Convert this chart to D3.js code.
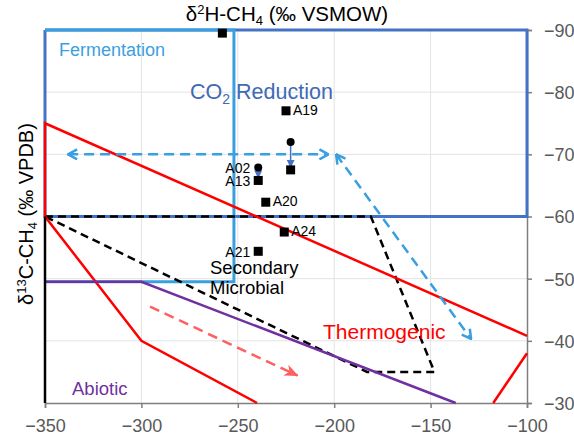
<!DOCTYPE html>
<html>
<head>
<meta charset="utf-8">
<script src="https://cdn.jsdelivr.net/npm/d3@7.9.0/dist/d3.min.js"></script>
<style>
  body { margin: 0; background: #fff; }
  svg { display: block; font-family: "Liberation Sans", Arial, sans-serif; }
</style>
</head>
<body>
<svg id="chart" width="574" height="440"></svg>
<script>
// axis ticks
const xTicks = [-350, -300, -250, -200, -150, -100];
const yTicks = [-90, -80, -70, -60, -50, -40, -30];

// genetic fields (δ2H, δ13C)
const co2Box = [[-350, -90], [-100, -90], [-100, -60], [-350, -60], [-350, -90]];
const fermentBox = [[-350, -90], [-252, -90], [-252, -49.5], [-350, -49.5]];
const thermoMain = [[-100, -40.8], [-350, -75], [-350, -60], [-300, -40], [-240, -30]];
const thermoRight = [[-117.5, -30], [-100, -38]];
const abiotic = [[-350, -49.5], [-300, -49.5], [-137, -30]];
const secondary = [[-350, -60], [-181, -60], [-148, -35], [-183, -35], [-350, -60]];
const leftEdge = [[-350, -60], [-350, -30]];

// process arrows
const fermArrow = [[-338, -70], [-203, -70]];
const oxArrow = [[-199, -70], [-129, -40.3]];
const thermoArrow = [[-295.5, -45.5], [-219, -34.4]];

// samples (squares)
const sampleNames = ["", "A19", "", "A13", "A20", "A24", "A21"];
const sampleH = [-258, -225, -222.6, -239.4, -235.5, -225.9, -239.4];
const sampleC = [-89.5, -77, -67.5, -65.8, -62.3, -57.5, -54.4];
const sampleSide = ["", "right", "", "left", "right", "right", "left"];

// earlier measurements (circles) -> shift arrows
const prevNames = ["", "A02"];
const prevH = [-222.6, -239.4];
const prevC = [-72, -67.9];
const prevTo = [2, 3];

const svg = d3.select("#chart");
const x = d3.scaleLinear().domain([-350, -100]).range([45, 527]);
const y = d3.scaleLinear().domain([-90, -30]).range([30, 403]);
const line = d3.line().x(d => x(d[0])).y(d => y(d[1]));

const defs = svg.append("defs");
defs.append("clipPath").attr("id", "plot")
  .append("rect").attr("x", x(-350) - 2).attr("y", y(-90) - 2)
  .attr("width", x(-100) - x(-350) + 4).attr("height", y(-30) - y(-90) + 4);

function chevron(id, color) {
  defs.append("marker").attr("id", id)
    .attr("viewBox", "0 0 12 12").attr("refX", 11).attr("refY", 6)
    .attr("markerWidth", 12).attr("markerHeight", 12)
    .attr("markerUnits", "userSpaceOnUse").attr("orient", "auto-start-reverse")
    .append("path").attr("d", "M2,1 L11,6 L2,11")
    .attr("fill", "none").attr("stroke", color).attr("stroke-width", 2.5);
}
chevron("blueHead", "#3a9fe0");
defs.append("marker").attr("id", "redHead")
  .attr("viewBox", "0 0 14 12").attr("refX", 13).attr("refY", 6)
  .attr("markerWidth", 14).attr("markerHeight", 12)
  .attr("markerUnits", "userSpaceOnUse").attr("orient", "auto")
  .append("path").attr("d", "M0,0 L14,6 L0,12 L4,6 Z").attr("fill", "#ff5f5f");
defs.append("marker").attr("id", "smallHead")
  .attr("viewBox", "0 0 8 8").attr("refX", 7).attr("refY", 4)
  .attr("markerWidth", 8).attr("markerHeight", 8)
  .attr("markerUnits", "userSpaceOnUse").attr("orient", "auto")
  .append("path").attr("d", "M0,0 L8,4 L0,8 Z").attr("fill", "#4472c4");

// gridlines
svg.append("g").selectAll("line").data(xTicks.slice(1, -1)).join("line")
  .attr("x1", d => x(d)).attr("x2", d => x(d)).attr("y1", y(-90)).attr("y2", y(-30))
  .attr("stroke", "#e3e3e3").attr("stroke-width", 1);
svg.append("g").selectAll("line").data(yTicks.slice(1, -1)).join("line")
  .attr("x1", x(-350)).attr("x2", x(-100)).attr("y1", d => y(d)).attr("y2", d => y(d))
  .attr("stroke", "#e3e3e3").attr("stroke-width", 1);

// axes: bottom and right
const xAxis = svg.append("g").attr("transform", `translate(0,${y(-30)})`)
  .call(d3.axisBottom(x).tickValues(xTicks).tickSize(5).tickPadding(8));
const yAxis = svg.append("g").attr("transform", `translate(${x(-100)},0)`)
  .call(d3.axisRight(y).tickValues(yTicks).tickSize(5).tickPadding(12));
[xAxis, yAxis].forEach(a => {
  a.select(".domain").attr("stroke", "#7f7f7f").attr("stroke-width", 1.5);
  a.selectAll(".tick line").attr("stroke", "#7f7f7f").attr("stroke-width", 1.5);
  a.selectAll(".tick text").attr("fill", "#595959")
    .style("font-size", "18px").style("font-family", "Liberation Sans, Arial, sans-serif");
});
yAxis.selectAll(".tick text").attr("dy", "0.36em");
xAxis.selectAll(".tick text").attr("dy", "0.9em");

const g = svg.append("g").attr("clip-path", "url(#plot)");

// fields
g.append("path").attr("d", line(co2Box)).attr("fill", "none")
  .attr("stroke", "#4472c4").attr("stroke-width", 3);
g.append("path").attr("d", line(fermentBox)).attr("fill", "none")
  .attr("stroke", "#3a9fe0").attr("stroke-width", 3);
g.append("path").attr("d", line(secondary)).attr("fill", "none")
  .attr("stroke", "#000").attr("stroke-width", 2.5).attr("stroke-dasharray", "8,5");
g.append("path").attr("d", line(thermoMain)).attr("fill", "none")
  .attr("stroke", "#ff0000").attr("stroke-width", 2.5);
g.append("path").attr("d", line(thermoRight)).attr("fill", "none")
  .attr("stroke", "#ff0000").attr("stroke-width", 2.5);
g.append("path").attr("d", line(abiotic)).attr("fill", "none")
  .attr("stroke", "#7030a0").attr("stroke-width", 2.5);
g.append("path").attr("d", line(leftEdge)).attr("fill", "none")
  .attr("stroke", "#000").attr("stroke-width", 2.5);

// process arrows
g.append("path").attr("d", line(fermArrow)).attr("fill", "none")
  .attr("stroke", "#3a9fe0").attr("stroke-width", 2.5).attr("stroke-dasharray", "10,6")
  .attr("marker-start", "url(#blueHead)").attr("marker-end", "url(#blueHead)");
g.append("path").attr("d", line(oxArrow)).attr("fill", "none")
  .attr("stroke", "#3a9fe0").attr("stroke-width", 2.5).attr("stroke-dasharray", "10,6")
  .attr("marker-start", "url(#blueHead)").attr("marker-end", "url(#blueHead)");
g.append("path").attr("d", line(thermoArrow)).attr("fill", "none")
  .attr("stroke", "#ff5f5f").attr("stroke-width", 2.5).attr("stroke-dasharray", "10,6")
  .attr("marker-end", "url(#redHead)");

// shift arrows from circles to squares
prevTo.forEach((j, i) => {
  g.append("line")
    .attr("x1", x(prevH[i])).attr("y1", y(prevC[i]))
    .attr("x2", x(sampleH[j])).attr("y2", y(sampleC[j]) - 3)
    .attr("stroke", "#4472c4").attr("stroke-width", 1.5)
    .attr("marker-end", "url(#smallHead)");
});

// points
g.selectAll("circle.prev").data(prevH).join("circle").attr("class", "prev")
  .attr("cx", d => x(d)).attr("cy", (d, i) => y(prevC[i])).attr("r", 4).attr("fill", "#000");
g.selectAll("rect.sample").data(sampleH).join("rect").attr("class", "sample")
  .attr("x", d => x(d) - 4.5).attr("y", (d, i) => y(sampleC[i]) - 4.5)
  .attr("width", 9).attr("height", 9).attr("fill", "#000");

// point labels
const labels = svg.append("g").style("font-size", "14px").attr("fill", "#000");
sampleNames.forEach((n, i) => {
  if (!n) return;
  const right = sampleSide[i] === "right";
  labels.append("text")
    .attr("x", x(sampleH[i]) + (right ? 7 : -8))
    .attr("y", y(sampleC[i]) + (right ? 4 : 6))
    .attr("text-anchor", right ? "start" : "end").text(n);
});
prevNames.forEach((n, i) => {
  if (!n) return;
  labels.append("text").attr("x", x(prevH[i]) - 8).attr("y", y(prevC[i]) + 6)
    .attr("text-anchor", "end").text(n);
});

// field labels
svg.append("text").attr("x", 59).attr("y", 56).attr("fill", "#3a9fe0")
  .style("font-size", "18px").text("Fermentation");
const co2 = svg.append("text").attr("x", 190).attr("y", 99).attr("fill", "#4169b5")
  .style("font-size", "21.5px");
co2.append("tspan").text("CO");
co2.append("tspan").attr("dy", 5).style("font-size", "14px").text("2");
co2.append("tspan").attr("dy", -5).text(" Reduction");
svg.append("text").attr("x", 210).attr("y", 274).attr("fill", "#000")
  .style("font-size", "18.5px").text("Secondary");
svg.append("text").attr("x", 210).attr("y", 294).attr("fill", "#000")
  .style("font-size", "18.5px").text("Microbial");
svg.append("text").attr("x", 323).attr("y", 339).attr("fill", "#ff0000")
  .style("font-size", "21px").text("Thermogenic");
svg.append("text").attr("x", 72).attr("y", 395).attr("fill", "#7030a0")
  .style("font-size", "18.5px").text("Abiotic");

// axis titles
const tx = svg.append("text").attr("x", 287).attr("y", 21).attr("text-anchor", "middle")
  .attr("fill", "#000").style("font-size", "20.5px");
tx.append("tspan").text("δ");
tx.append("tspan").attr("dy", -7).style("font-size", "13px").text("2");
tx.append("tspan").attr("dy", 7).text("H-CH");
tx.append("tspan").attr("dy", 4).style("font-size", "13px").text("4");
tx.append("tspan").attr("dy", -4).text(" (‰ VSMOW)");

const ty = svg.append("text").attr("transform", "translate(33,214) rotate(-90)")
  .attr("text-anchor", "middle").attr("fill", "#000").style("font-size", "20px");
ty.append("tspan").text("δ");
ty.append("tspan").attr("dy", -7).style("font-size", "13px").text("13");
ty.append("tspan").attr("dy", 7).text("C-CH");
ty.append("tspan").attr("dy", 4).style("font-size", "13px").text("4");
ty.append("tspan").attr("dy", -4).text(" (‰ VPDB)");
</script>
</body>
</html>
